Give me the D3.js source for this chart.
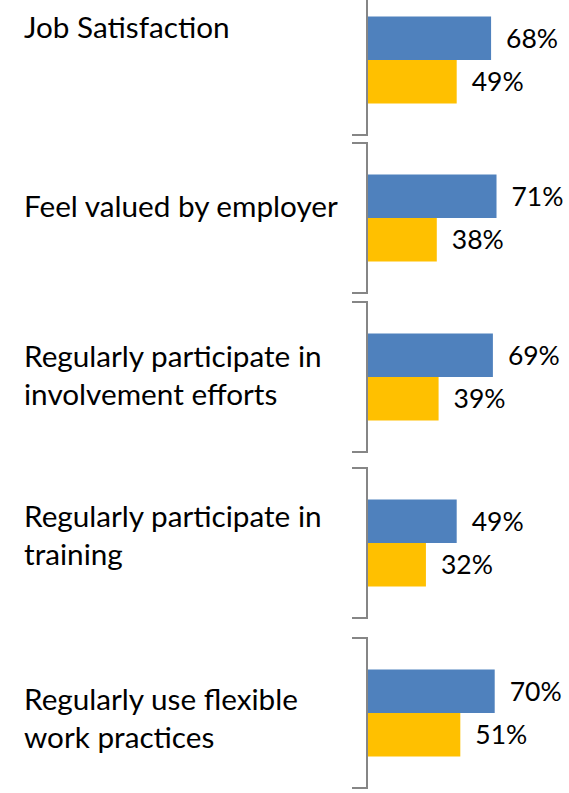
<!DOCTYPE html>
<html><head><meta charset="utf-8">
<script src="https://cdn.jsdelivr.net/npm/d3@7"></script>
<style>html,body{margin:0;padding:0;background:#fff;overflow:hidden}</style>
</head><body><div id="chart"></div>
<script>
// ---- data ----
const categories = ["Job Satisfaction", "Feel valued by employer", "Regularly participate in involvement efforts", "Regularly participate in training", "Regularly use flexible work practices"];
const labelLines = [["Job Satisfaction"], ["Feel valued by employer"], ["Regularly participate in", "involvement efforts"], ["Regularly participate in", "training"], ["Regularly use flexible", "work practices"]];
const seriesNames = ["Series 1", "Series 2"];
const series1 = [68, 71, 69, 49, 70];
const series2 = [49, 38, 39, 32, 51];

// ---- layout ----
const W = 569, H = 793;
const axisX = 367;
const colors = ["#4F81BD", "#FFC000"];
const font = "Lato, 'Noto Sans', sans-serif";
const fontSize = 29.7;
const valueFontSize = 26.5;
const lineH = 38;
const labelNudge = [-29, -8, 1.5, -4.5, 8.5];

const svg = d3.select("#chart").append("svg").attr("width", W).attr("height", H);

const yGroup = d3.scaleLinear().domain([0, 1, 2, 3, 4]).range([60, 218, 377, 543, 713]);
const ySeries = d3.scaleBand().domain(seriesNames).range([-43.5, 43.5]).padding(0);
const x = d3.scaleLinear().domain([0, 100]).range([axisX + 1, axisX + 1 + 181]);

const rows = categories.map((c, i) => ({ c, i, vals: [series1[i], series2[i]] }));

// brackets (axis segments)
svg.append("g").selectAll("path").data(rows).join("path")
  .attr("d", d => {
    const c = yGroup(d.i);
    return `M${axisX - 15},${c - 75}H${axisX}V${c + 75}H${axisX - 15}`;
  })
  .attr("fill", "none").attr("stroke", "#868686").attr("stroke-width", 2);

// bars
const g = svg.append("g").selectAll("g").data(rows).join("g")
  .attr("transform", d => `translate(0,${yGroup(d.i)})`);

g.selectAll("rect").data(d => d.vals.map((v, k) => ({ v, k }))).join("rect")
  .attr("x", x(0))
  .attr("y", d => ySeries(seriesNames[d.k]))
  .attr("width", d => x(d.v) - x(0))
  .attr("height", ySeries.bandwidth())
  .attr("fill", d => colors[d.k]);

g.selectAll("text.val").data(d => d.vals.map((v, k) => ({ v, k }))).join("text")
  .attr("class", "val")
  .attr("x", d => x(d.v) + 15)
  .attr("y", d => ySeries(seriesNames[d.k]) + ySeries.bandwidth() / 2)
  .attr("dy", "0.36em")
  .attr("font-family", font).attr("font-size", valueFontSize).attr("fill", "#000")
  .text(d => d.v + "%");

// category labels
svg.append("g").selectAll("text").data(rows).join("text")
  .attr("x", 24)
  .attr("y", d => yGroup(d.i) - (labelLines[d.i].length - 1) * lineH / 2 + 7 + labelNudge[d.i])
  .attr("font-family", font).attr("font-size", fontSize).attr("fill", "#000")
  .selectAll("tspan").data(d => labelLines[d.i]).join("tspan")
  .attr("x", 24)
  .attr("dy", (t, j) => j === 0 ? 0 : lineH)
  .text(t => t);
</script>
</body></html>
